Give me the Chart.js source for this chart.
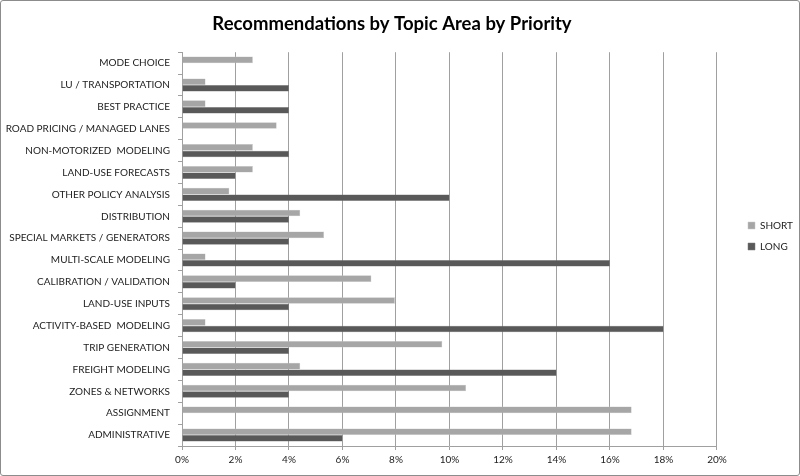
<!DOCTYPE html>
<html>
<head>
<meta charset="utf-8">
<script src="https://cdn.jsdelivr.net/npm/chart.js@4.4.1/dist/chart.umd.min.js"></script>
<style>
  html, body { margin: 0; padding: 0; background: #fff; }
  #wrap {
    width: 800px; height: 476px; box-sizing: border-box;
    border: 1px solid #8c8c8c; border-radius: 3px; position: relative;
  }
</style>
</head>
<body>
<div id="wrap"><canvas id="chart"></canvas></div>
<script>
// Topics, top to bottom
const topics = [
    'MODE CHOICE', 'LU / TRANSPORTATION', 'BEST PRACTICE', 'ROAD PRICING / MANAGED LANES',
    'NON-MOTORIZED  MODELING', 'LAND-USE FORECASTS', 'OTHER POLICY ANALYSIS', 'DISTRIBUTION',
    'SPECIAL MARKETS / GENERATORS', 'MULTI-SCALE MODELING', 'CALIBRATION / VALIDATION',
    'LAND-USE INPUTS', 'ACTIVITY-BASED  MODELING', 'TRIP GENERATION', 'FREIGHT MODELING',
    'ZONES & NETWORKS', 'ASSIGNMENT', 'ADMINISTRATIVE'
];

// Share of recommendations, percent
const shortValues = [2.65, 0.88, 0.88, 3.54, 2.65, 2.65, 1.77, 4.42, 5.31, 0.88, 7.08, 7.96, 0.88, 9.73, 4.42, 10.62, 16.81, 16.81];
const longValues  = [0, 4, 4, 0, 4, 2, 10, 4, 4, 16, 2, 4, 18, 4, 14, 4, 0, 6];

const xTicks = [0, 2, 4, 6, 8, 10, 12, 14, 16, 18, 20];

const fontFamily = 'Lato, "Liberation Sans", sans-serif';
const gridColor = '#a0a0a0';

// push the legend a bit further right (and up), away from the plot
const legendShift = {
    id: 'legendShift',
    afterLayout(chart) {
        chart.legend.left += 20;
        chart.legend.right += 20;
        chart.legend.top -= 4;
        chart.legend.bottom -= 4;
    }
};

const chart = new Chart(document.getElementById('chart'), {
    type: 'bar',
    data: {
        labels: topics,
        datasets: [
            {
                label: 'SHORT',
                data: shortValues,
                backgroundColor: '#a6a6a6',
                borderColor: '#c8c8c8',
                borderWidth: 0.5,
                categoryPercentage: 0.6,
                barPercentage: 1.0
            },
            {
                label: 'LONG',
                data: longValues,
                backgroundColor: '#595959',
                borderColor: '#7a7a7a',
                borderWidth: 0.5,
                categoryPercentage: 0.6,
                barPercentage: 1.0
            }
        ]
    },
    options: {
        indexAxis: 'y',
        responsive: true,
        maintainAspectRatio: false,
        animation: false,
        layout: {
            padding: { left: 0, right: 16, top: 9, bottom: 5 }
        },
        scales: {
            x: {
                min: 0,
                max: 20,
                afterBuildTicks: function(scale) {
                    scale.ticks = xTicks.map(v => ({ value: v }));
                },
                ticks: {
                    callback: v => v + '%',
                    color: '#222',
                    font: { family: fontFamily, size: 10 },
                    padding: 4
                },
                grid: {
                    color: gridColor,
                    lineWidth: 1,
                    tickLength: 4
                },
                border: { color: gridColor }
            },
            y: {
                afterFit: function(scale) {
                    scale.width = 181;
                },
                ticks: {
                    color: '#222',
                    font: { family: fontFamily, size: 10 },
                    padding: 8
                },
                grid: {
                    drawOnChartArea: false,
                    color: gridColor,
                    tickLength: 4,
                    offset: true
                },
                border: { color: gridColor }
            }
        },
        plugins: {
            title: {
                display: true,
                text: 'Recommendations by Topic Area by Priority',
                color: '#000',
                font: { family: fontFamily, size: 18.5, weight: 'bold' },
                padding: { top: 3, bottom: 17 }
            },
            legend: {
                position: 'right',
                labels: {
                    boxWidth: 7,
                    boxHeight: 7,
                    padding: 11,
                    color: '#222',
                    font: { family: fontFamily, size: 10 }
                }
            },
            tooltip: { enabled: false }
        }
    },
    plugins: [legendShift]
});
</script>
</body>
</html>
